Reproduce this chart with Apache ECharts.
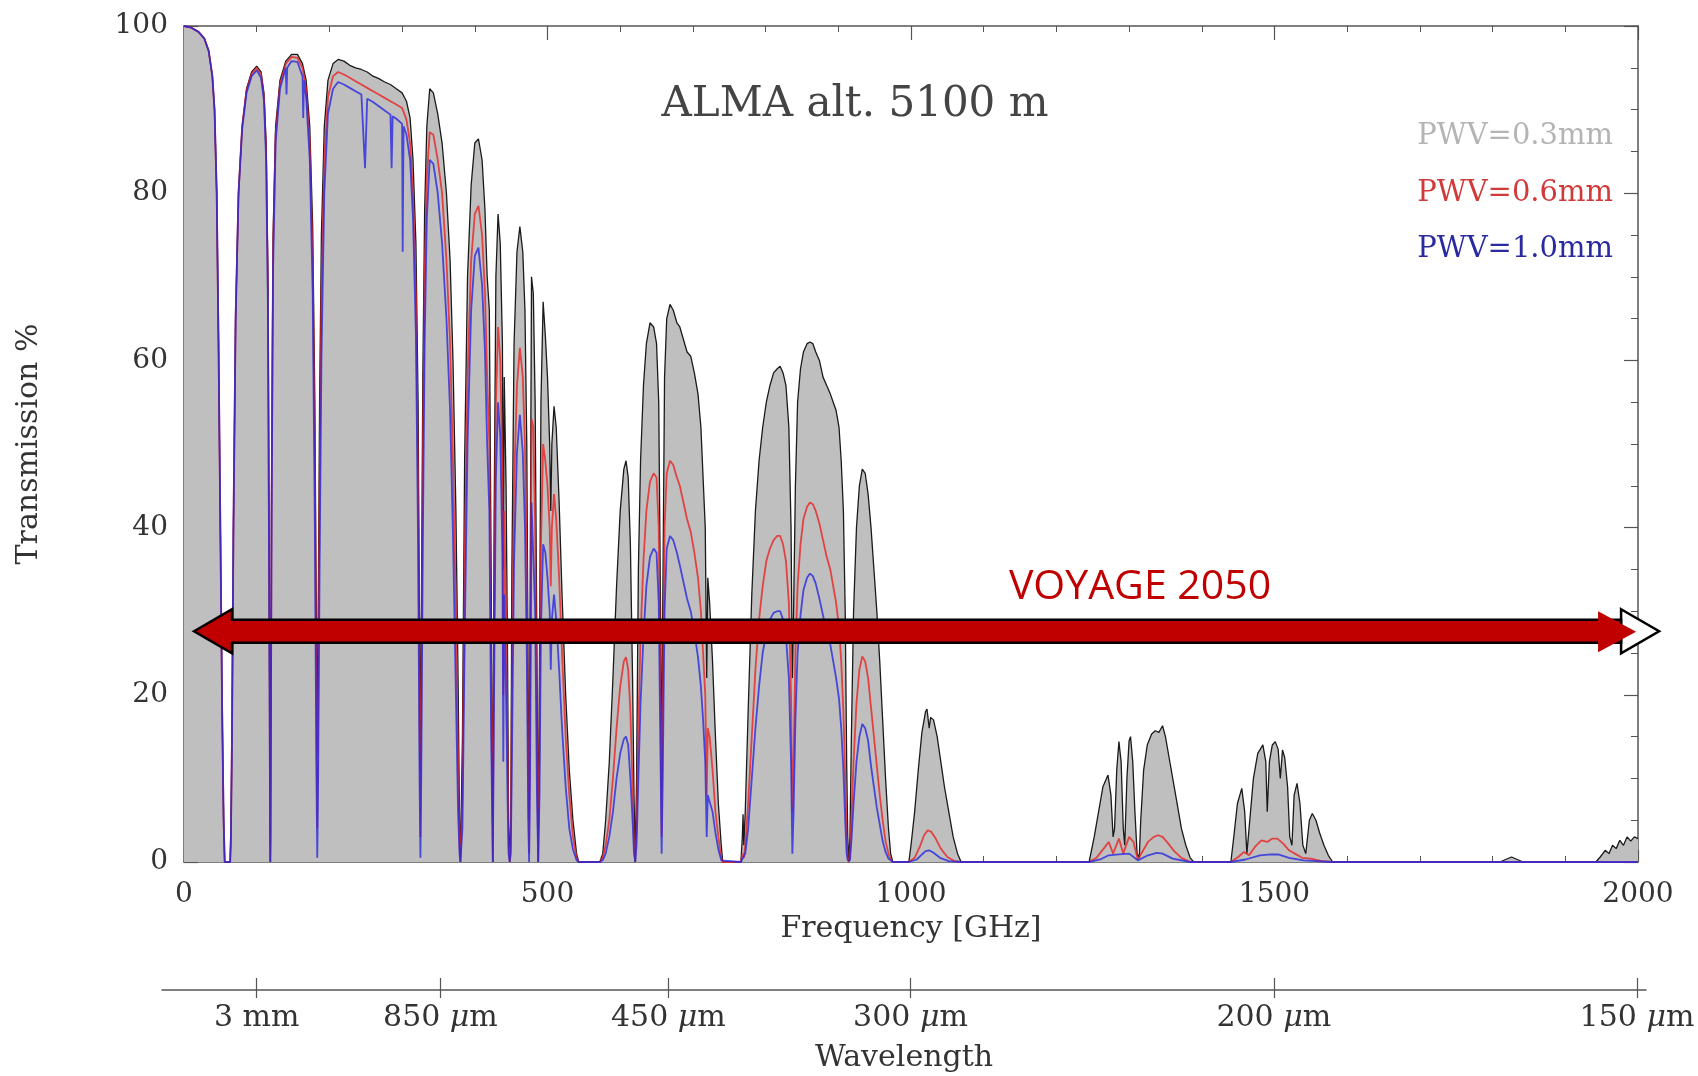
<!DOCTYPE html>
<html>
<head>
<meta charset="utf-8">
<script src="https://cdn.jsdelivr.net/npm/echarts@6/dist/echarts.min.js"></script>
<style>
html,body{margin:0;padding:0;background:#fff;}
#c{width:1698px;height:1076px;}
</style>
</head>
<body>
<div id="c"></div>
<script>
// ---- Data (frequency GHz, transmission %) ----
const pwv03 = [[0,100],[10,99.8],[20,99.3],[28,98.5],[34,97],[39,94],[42,90],[45,80],[47.5,62],[50,40],[52.5,18],[54.5,5],[56,0],[63.5,0],[64.5,3],[66,15],[68,40],[71,65],[75,80],[80,88],[86,92.5],[93,94.5],[100,95.2],[106,94.5],[110,92],[113,86],[115.5,70],[117,40],[118.5,3],[118.75,0],[119,3],[120.5,45],[122.5,75],[126,88],[132,93.5],[140,95.8],[148,96.6],[156,96.6],[163,95.5],[168,93.5],[173,88],[177,76],[180,55],[182,30],[183.3,13],[184.5,28],[186.5,55],[189,75],[193,88],[198,93.5],[205,95.5],[212,96],[220,95.8],[228,95.3],[236,95],[244,94.8],[252,94.5],[260,94],[268,93.7],[276,93.3],[284,93],[292,92.5],[300,92],[306,91],[311,89],[315,84],[319,74],[322,55],[324,28],[325.2,11],[326.5,30],[328.5,58],[331,78],[334,88],[338,92.5],[343,92],[349,89.5],[355,86],[361,80],[366,72],[370,60],[374,42],[377,22],[379,5],[380.2,0],[381.5,0],[383,15],[386,48],[390,70],[395,81],[400,86],[405,86.5],[410,84],[414,78],[417,70],[420,66],[422.5,35],[424.8,0],[426.5,40],[429,70],[432,77.5],[435,74],[438,62],[439.2,35],[440.5,58],[443,45],[445,25],[446.5,5],[448,0],[449.5,5],[451,35],[454,62],[458,73],[462,76],[466,73],[469,66],[471.5,50],[473.5,20],[474.7,5],[476,30],[478,70],[480.5,68],[483,55],[485.5,25],[487.2,0],[489,25],[491,55],[494,67],[497,63],[500,58],[503,50],[504.5,42],[506,50],[509,54.5],[512,52],[516,43],[520,32],[525,20],[530,11],[535,5],[540,1],[543,0],[572,0],[576,1],[580,5],[585,12],[590,22],[595,33],[600,42],[605,47],[608,48],[611,46],[614,38],[617,22],[619,8],[620.7,0],[622.5,10],[625,35],[628,48],[632,57],[636,62],[641,64.5],[646,64],[650,62],[653,55],[655.5,30],[657,9],[658.5,30],[661,58],[664,65],[668.5,66.7],[673,66],[678,64.5],[682,64],[687,62.5],[692,61],[697,60.5],[702,58.5],[707,56],[711,52],[714,46],[717,40],[719,22],[720.5,34],[723,31],[727,24],[731,15],[735,7],[739,2],[741,0],[766,0],[768,3],[769,5.7],[770,2],[772,6],[776,18],[781,32],[786,42],[791,48],[796,52],[801,55],[806,57],[811,58.5],[816,59],[820,59.3],[824,58.5],[828,57],[832,52],[835,40],[836.8,22],[838.5,30],[841,45],[844,55],[848,59],[852,61],[857,62],[861,62.2],[865,62],[869,61],[874,60],[879,58],[884,57],[889,56],[893,55],[897,54],[901,52],[904,48],[907,42],[909.5,30],[911.5,12],[913,3],[914.5,0],[916,3],[918,15],[921,30],[925,40],[929,45],[933,47],[937,46.5],[941,44],[945,40],[949,35],[953,30],[957,24],[961,17],[965,10],[969,4],[972,1],[975,0],[997,0],[1000,2],[1005,6],[1010,11],[1015,15.5],[1020,18],[1022,18.3],[1025,16],[1027,17.3],[1031,17],[1036,15],[1041,12],[1046,9],[1052,6],[1058,3],[1064,1],[1069,0],[1245,0],[1252,3],[1258,6],[1264,9],[1271,10.4],[1275,8],[1278,3],[1280,4],[1283,11],[1286,14.4],[1289,12],[1292,4],[1294,2],[1297,10],[1300,14.5],[1302,15],[1305,12],[1308,6],[1311,1],[1314,0.5],[1316,5],[1320,11],[1325,14],[1331,15.3],[1336,15.7],[1341,15.5],[1346,16.3],[1350,15],[1355,12.5],[1360,10],[1366,7],[1372,4],[1378,2],[1384,0.5],[1389,0],[1440,0],[1444,3],[1449,7],[1455,8.8],[1459,6],[1462,1],[1466,5],[1471,10],[1477,13],[1484,14],[1488,12],[1490,6],[1493,12],[1497,14],[1501,14.4],[1505,13.5],[1508,10],[1511,13.4],[1514,12.5],[1518,9],[1521,3],[1524,2],[1527,8],[1531,9.4],[1535,7],[1539,2],[1543,1],[1548,5],[1552,5.8],[1557,5],[1562,3.5],[1568,2],[1574,0.8],[1580,0],[1810,0],[1818,0.3],[1826,0.6],[1834,0.3],[1842,0],[1942,0],[1948,0.6],[1955,1.4],[1960,1],[1965,2],[1970,1.6],[1975,2.6],[1980,2],[1985,3],[1990,2.5],[1995,3],[2000,2.8]];

const pwv06 = [[0,100],[10,99.8],[20,99.3],[28,98.5],[34,97],[39,94],[42,90],[45,80],[47.5,62],[50,40],[52.5,18],[54.5,5],[56,0],[63.5,0],[64.5,3],[66,15],[68,40],[71,65],[75,80],[80,88],[86,92.3],[93,94.3],[100,95],[106,94.2],[110,91.5],[113,85],[115.5,68],[117,38],[118.5,3],[118.75,0],[119,3],[120.5,43],[122.5,73],[126,87],[132,93],[140,95.5],[148,96.3],[156,96.2],[163,95],[168,92.5],[173,86],[177,72],[180,48],[182,20],[183.3,4],[184.5,18],[186.5,45],[189,68],[193,84],[198,91.5],[205,94],[212,94.5],[220,94.2],[228,93.8],[236,93.4],[244,93],[252,92.6],[260,92.2],[268,91.8],[276,91.4],[284,91],[292,90.6],[300,90.2],[306,88.8],[311,86],[315,80],[319,68],[322,45],[324,18],[325.2,3],[326.5,20],[328.5,48],[331,70],[334,82],[338,87.3],[343,87],[349,84],[355,80],[361,72],[366,62],[370,48],[374,30],[377,12],[379,2],[380.2,0],[381.5,0],[383,8],[386,35],[390,58],[395,72],[400,77.5],[405,78.5],[410,75],[414,68],[417,58],[420,50],[422.5,22],[424.8,0],[426.5,28],[429,55],[432,64],[435,60],[438,47],[439.2,20],[440.5,42],[443,30],[445,14],[446.5,2],[448,0],[449.5,2],[451,20],[454,45],[458,57],[462,61.5],[466,58],[469,50],[471.5,35],[473.5,10],[474.7,1],[476,18],[478,53],[480.5,52],[483,40],[485.5,15],[487.2,0],[489,15],[491,38],[494,50],[497,48],[500,45],[503,40],[504.5,33],[506,40],[509,44],[512,41],[516,34],[520,25],[525,15],[530,8],[535,3],[540,0.5],[543,0],[572,0],[576,0.5],[580,2],[585,5],[590,10],[595,16],[600,21],[605,24],[608,24.5],[611,23],[614,18],[617,9],[619,2],[620.7,0],[622.5,4],[625,16],[628,27],[632,36],[636,42],[641,45.5],[646,46.5],[650,46],[653,40],[655.5,20],[657,3],[658.5,18],[661,40],[664,46.5],[668.5,48],[673,47.5],[678,46],[682,45],[687,43],[692,41],[697,39.5],[702,37],[707,34],[711,30],[714,25],[717,20],[719,8],[720.5,16],[723,15],[727,11],[731,6],[735,3],[739,0.5],[741,0],[766,0],[768,1],[770,0.5],[772,2],[776,7],[781,15],[786,23],[791,29],[796,33],[801,36],[806,37.5],[811,38.5],[816,39],[820,39],[824,38],[828,36],[832,31],[835,20],[836.8,6],[838.5,12],[841,25],[844,33],[848,38],[852,41],[857,42.5],[861,43],[865,42.8],[869,42],[874,40.5],[879,38.5],[884,36.5],[889,35],[893,33],[897,31],[901,28],[904,24],[907,18],[909.5,10],[911.5,3],[913,0.5],[914.5,0],[916,0.5],[918,5],[921,12],[925,19],[929,23],[933,24.6],[937,24],[941,22],[945,18.5],[949,15],[953,11.5],[957,8],[961,5],[965,2.5],[969,1],[972,0.3],[975,0],[997,0],[1005,0.5],[1012,1.8],[1018,3.2],[1023,3.8],[1028,3.6],[1034,2.8],[1041,1.6],[1050,0.6],[1060,0.1],[1069,0],[1245,0],[1255,0.5],[1265,1.6],[1272,2.4],[1278,1],[1286,2.8],[1292,1],[1300,3],[1306,2.4],[1312,0.3],[1318,1.2],[1326,2.4],[1334,3],[1340,3.2],[1346,3],[1354,2.2],[1362,1.3],[1372,0.5],[1384,0],[1440,0],[1450,0.6],[1458,1.2],[1465,0.8],[1473,1.8],[1482,2.6],[1490,2.4],[1497,2.8],[1504,2.8],[1512,2.2],[1520,1.4],[1528,1],[1538,0.5],[1550,0.4],[1565,0.1],[1580,0],[2000,0]];

const pwv10 = [[0,100],[10,99.8],[20,99.3],[28,98.5],[34,97],[39,94],[42,90],[45,80],[47.5,62],[50,40],[52.5,18],[54.5,5],[56,0],[63.5,0],[64.5,3],[66,15],[68,40],[71,65],[75,80],[80,87.7],[86,92],[93,94],[100,94.7],[106,93.8],[110,91],[113,84],[115.5,66],[117,36],[118.5,3],[118.75,0],[119,3],[120.5,41],[122.5,71],[126,86],[132,92.5],[140,95],[141,91.8],[142,95],[148,95.8],[156,95.7],[163,94],[164,89],[165,93.5],[168,91.5],[173,84],[177,68],[180,40],[182,12],[183.3,0.5],[184.5,10],[186.5,35],[189,60],[193,80],[198,89.5],[205,92.5],[212,93.3],[220,93],[228,92.6],[236,92.2],[244,91.8],[249,83],[252,91.3],[260,90.9],[268,90.4],[276,89.9],[284,89.4],[285.6,83],[287,89.2],[292,88.9],[300,88.3],[300.8,73],[302,88],[306,87],[311,84],[315,77],[319,63],[322,38],[324,10],[325.2,0.5],[326.5,12],[328.5,38],[331,62],[334,77],[338,84],[343,83.5],[349,80],[355,74],[361,65],[366,54],[370,39],[374,20],[377,6],[379,1],[380.2,0],[381.5,0],[383,4],[386,26],[390,50],[395,66],[400,72.5],[405,73.5],[410,69],[414,61],[417,50],[420,42],[422.5,15],[424.8,0],[426.5,20],[429,46],[432,55],[435,51],[438,37],[439.2,12],[440.5,32],[443,20],[445,8],[446.5,1],[448,0],[449.5,1],[451,12],[454,36],[458,49],[462,53.5],[466,49],[469,40],[471.5,25],[473.5,5],[474.7,0],[476,10],[478,43],[480.5,43],[483,30],[485.5,8],[487.2,0],[489,8],[491,28],[494,38],[497,37],[500,34],[503,30],[504.5,23],[506,29],[509,32],[512,29],[516,23],[520,16],[525,9],[530,4],[535,1.5],[540,0.2],[543,0],[572,0],[576,0.2],[580,1],[585,3],[590,6],[595,10],[600,13],[605,14.7],[608,15],[611,14],[614,10],[617,5],[619,1],[620.7,0],[622.5,2],[625,10],[628,19],[632,27],[636,33],[641,36.5],[646,37.5],[650,37],[653,31],[655.5,12],[657,1],[658.5,10],[661,30],[664,37.5],[668.5,39],[673,38.5],[678,37],[682,35.5],[687,33.5],[692,31.5],[697,30],[702,27.5],[707,24.5],[711,21],[714,17],[717,12],[719,3],[720.5,8],[723,8],[727,6],[731,3.5],[735,1.5],[739,0.2],[741,0],[766,0],[772,1],[776,4],[781,10],[786,16],[791,21],[796,25],[801,27.5],[806,29],[811,29.8],[816,30],[820,30],[824,29],[828,27],[832,22],[835,12],[836.8,1],[838.5,6],[841,17],[844,25],[848,29.5],[852,32.5],[857,34],[861,34.5],[865,34.2],[869,33.3],[874,31.5],[879,29.5],[884,27.5],[889,26],[893,24],[897,22],[901,19.5],[904,16],[907,11],[909.5,5],[911.5,1],[913,0.2],[914.5,0],[916,0.2],[918,2.5],[921,7],[925,12],[929,15],[933,16.5],[937,16],[941,14.5],[945,11.5],[949,9],[953,6.5],[957,4.5],[961,2.5],[965,1.2],[969,0.4],[975,0],[997,0],[1008,0.3],[1015,0.9],[1020,1.3],[1025,1.4],[1031,1.1],[1040,0.5],[1052,0.1],[1069,0],[1245,0],[1260,0.3],[1272,0.8],[1286,0.9],[1300,1],[1312,0.2],[1326,0.8],[1338,1.1],[1346,1],[1360,0.4],[1384,0],[1440,0],[1460,0.3],[1480,0.8],[1495,0.9],[1505,0.9],[1520,0.5],[1540,0.2],[1580,0],[2000,0]];

// wavelength axis: frequency position (GHz) and label
const waveFreqs = [99.93, 352.7, 666.2, 999.3, 1499, 1998.6];
const waveLabels = ['3 mm', '850 μm', '450 μm', '300 μm', '200 μm', '150 μm'];

const seriesNames = ['PWV=0.3mm', 'PWV=0.6mm', 'PWV=1.0mm'];
const titleText = 'ALMA alt. 5100 m';
const bannerText = 'VOYAGE 2050';
// arrow annotation in data units: [start GHz, end GHz, level %]
const arrowSpan = [13.8, 2029, 27.6];

const SERIF = '"DejaVu Serif", "Liberation Serif", serif';
const TXT = '#333';
const AX = '#555';

const chart = echarts.init(document.getElementById('c'), null, {renderer: 'canvas'});

function waveFmt(v) {
  let best = 0, bd = 1e9;
  waveFreqs.forEach((f, i) => { const d = Math.abs(f - v); if (d < bd) { bd = d; best = i; } });
  const s = waveLabels[best];
  return s.indexOf('μ') >= 0 ? s.replace('μ', '{i|μ}') : s;
}

const option = {
  animation: false,
  backgroundColor: '#fff',
  grid: [
    {left: 184, right: 60, top: 26, bottom: 214, containLabel: false},
    {left: 162, right: 52, top: 989, height: 1, containLabel: false}
  ],
  xAxis: [
    {
      type: 'value', gridIndex: 0, position: 'bottom', min: 0, max: 2000, interval: 500,
      axisLine: {show: true, onZero: false, lineStyle: {color: AX, width: 1.5}},
      axisTick: {show: true, inside: true, length: 12, lineStyle: {color: AX, width: 1.2}},
      minorTick: {show: true, splitNumber: 5, length: 6, lineStyle: {color: AX, width: 1}},
      splitLine: {show: false}, minorSplitLine: {show: false},
      axisLabel: {fontFamily: SERIF, fontSize: 28, color: TXT, margin: 19, formatter: v => String(v)},
      name: 'Frequency [GHz]', nameLocation: 'middle', nameGap: 51,
      nameTextStyle: {fontFamily: SERIF, fontSize: 30, color: TXT}
    },
    {
      type: 'value', gridIndex: 0, position: 'top', min: 0, max: 2000, interval: 500,
      axisLine: {show: true, onZero: false, lineStyle: {color: AX, width: 1.5}},
      axisTick: {show: true, inside: true, length: 14, lineStyle: {color: AX, width: 1.2}},
      minorTick: {show: true, splitNumber: 5, length: 6, lineStyle: {color: AX, width: 1}},
      splitLine: {show: false}, axisLabel: {show: false}
    },
    {
      type: 'value', gridIndex: 1, position: 'bottom', min: -30.26, max: 2011,
      axisLine: {show: true, onZero: false, lineStyle: {color: AX, width: 1.5}},
      axisTick: {show: true, inside: true, length: 12, customValues: waveFreqs, lineStyle: {color: AX, width: 1.2}},
      splitLine: {show: false},
      axisLabel: {
        show: true, customValues: waveFreqs, formatter: waveFmt,
        fontFamily: SERIF, fontSize: 30, color: TXT, margin: 13,
        rich: {i: {fontFamily: SERIF, fontStyle: 'italic', fontSize: 30, color: TXT}}
      },
      name: 'Wavelength', nameLocation: 'middle', nameGap: 53,
      nameTextStyle: {fontFamily: SERIF, fontSize: 30, color: TXT}
    },
    {
      type: 'value', gridIndex: 1, position: 'bottom', min: -30.26, max: 2011,
      axisLine: {show: false},
      axisTick: {show: true, inside: false, length: 8, customValues: waveFreqs, lineStyle: {color: AX, width: 1.2}},
      splitLine: {show: false}, axisLabel: {show: false}
    }
  ],
  yAxis: [
    {
      type: 'value', gridIndex: 0, position: 'left', min: 0, max: 100, interval: 20,
      axisLine: {show: true, onZero: false, lineStyle: {color: AX, width: 1.5}},
      axisTick: {show: true, inside: true, length: 14, lineStyle: {color: AX, width: 1.2}},
      minorTick: {show: true, splitNumber: 4, length: 7, lineStyle: {color: AX, width: 1}},
      splitLine: {show: false},
      axisLabel: {fontFamily: SERIF, fontSize: 28, color: TXT, margin: 16},
      name: 'Transmission %', nameLocation: 'middle', nameGap: 140, nameRotate: 90,
      nameTextStyle: {fontFamily: SERIF, fontSize: 30, color: TXT}
    },
    {
      type: 'value', gridIndex: 0, position: 'right', min: 0, max: 100, interval: 20,
      axisLine: {show: true, onZero: false, lineStyle: {color: AX, width: 1.5}},
      axisTick: {show: true, inside: true, length: 14, lineStyle: {color: AX, width: 1.2}},
      minorTick: {show: true, splitNumber: 4, length: 7, lineStyle: {color: AX, width: 1}},
      splitLine: {show: false}, axisLabel: {show: false}
    },
    {
      type: 'value', gridIndex: 1, min: 0, max: 1, show: false
    }
  ],
  series: [
    {
      name: seriesNames[0], type: 'line', xAxisIndex: 0, yAxisIndex: 0, data: pwv03,
      showSymbol: false, symbol: 'none', z: 2,
      lineStyle: {color: '#1a1a1a', width: 1.3},
      areaStyle: {color: '#bfbfbf', opacity: 1}
    },
    {
      name: seriesNames[1], type: 'line', xAxisIndex: 0, yAxisIndex: 0, data: pwv06,
      showSymbol: false, symbol: 'none', z: 3,
      lineStyle: {color: 'rgba(235,35,35,0.8)', width: 1.8}
    },
    {
      name: seriesNames[2], type: 'line', xAxisIndex: 0, yAxisIndex: 0, data: pwv10,
      showSymbol: false, symbol: 'none', z: 4,
      lineStyle: {color: 'rgba(40,40,225,0.8)', width: 1.8}
    }
  ]
};
chart.setOption(option);

// annotation graphics (arrow positioned through the axis scales)
const pL = chart.convertToPixel({gridIndex: 0}, [arrowSpan[0], arrowSpan[2]]);
const pR = chart.convertToPixel({gridIndex: 0}, [arrowSpan[1], arrowSpan[2]]);
const yc = pL[1], xl = pL[0], xr = pR[0];
const HL = 38, HH = 22, SH = 11.5;
const arrowBody = [
  [xl, yc], [xl + HL, yc - HH], [xl + HL, yc - SH], [xr - HL, yc - SH], [xr - HL, yc + SH], [xl + HL, yc + SH], [xl + HL, yc + HH]
];
const rightHead = [[xr - HL, yc - HH], [xr, yc], [xr - HL, yc + HH]];
const redHead = [[xr - HL - 23, yc - 20], [xr - 23, yc + 0.5], [xr - HL - 23, yc + 21]];

chart.setOption({
  graphic: [
    {type: 'text', style: {text: titleText, fontFamily: SERIF, fontSize: 42, fill: '#444', x: 855, y: 105, align: 'center', verticalAlign: 'middle'}, z: 10},
    {type: 'text', style: {text: seriesNames[0], x: 1613, y: 136, align: 'right', verticalAlign: 'middle', fontFamily: SERIF, fontSize: 29, fill: '#b4b4b4'}, z: 10},
    {type: 'text', style: {text: seriesNames[1], x: 1613, y: 193, align: 'right', verticalAlign: 'middle', fontFamily: SERIF, fontSize: 29, fill: '#d23a3a'}, z: 10},
    {type: 'text', style: {text: seriesNames[2], x: 1613, y: 249, align: 'right', verticalAlign: 'middle', fontFamily: SERIF, fontSize: 29, fill: '#2a2aa0'}, z: 10},
    {type: 'polygon', shape: {points: rightHead}, style: {fill: '#fff', stroke: '#000', lineWidth: 2.5}, z: 20},
    {type: 'polygon', shape: {points: arrowBody}, style: {fill: '#c00000', stroke: '#000', lineWidth: 2.5}, z: 21},
    {type: 'polygon', shape: {points: redHead}, style: {fill: '#c00000'}, z: 22},
    {type: 'text', style: {text: bannerText, x: 1140, y: 587, align: 'center', verticalAlign: 'middle', fontFamily: '"Open Sans", "Noto Sans", sans-serif', fontSize: 41, fill: '#c00000'}, z: 23}
  ]
});
</script>
</body>
</html>
